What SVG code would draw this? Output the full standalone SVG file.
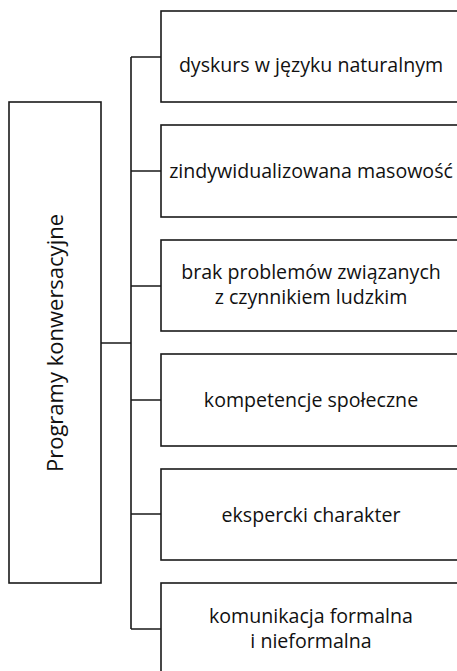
<svg xmlns="http://www.w3.org/2000/svg" width="457" height="671" viewBox="0 0 457 671">
<style>
.box{fill:#fff;stroke:#1a1a1a;stroke-width:1.6}
.conn{fill:none;stroke:#1a1a1a;stroke-width:1.6}
.t{font-family:"Open Sans","Noto Sans",sans-serif;font-size:19.6px;fill:#111;text-anchor:middle}
.big{font-size:22px}
</style>
<rect width="457" height="671" fill="#fff"/>
<g id="connectors">
<path class="conn" d="M101 343H131M131 57V629M131 57H161M131 171H161M131 286H161M131 400H161M131 514H161M131 629H161"/>
</g>
<g id="root">
<rect class="box" x="9" y="102" width="92" height="481"/>
<text class="t big" transform="translate(63,343) rotate(-90)">Programy konwersacyjne</text>
</g>
<g id="n1">
<rect class="box" x="161" y="11" width="310" height="91"/>
<text class="t" x="311" y="72">dyskurs w języku naturalnym</text>
</g>
<g id="n2">
<rect class="box" x="161" y="125" width="310" height="92"/>
<text class="t" x="311" y="178">zindywidualizowana masowość</text>
</g>
<g id="n3">
<rect class="box" x="161" y="240" width="310" height="91"/>
<text class="t" x="311" y="279">brak problemów związanych<tspan x="311" dy="24.5">z czynnikiem ludzkim</tspan></text>
</g>
<g id="n4">
<rect class="box" x="161" y="354" width="310" height="92"/>
<text class="t" x="311" y="407">kompetencje społeczne</text>
</g>
<g id="n5">
<rect class="box" x="161" y="469" width="310" height="91"/>
<text class="t" x="311" y="522">ekspercki charakter</text>
</g>
<g id="n6">
<rect class="box" x="161" y="583" width="310" height="100"/>
<text class="t" x="311" y="623">komunikacja formalna<tspan x="311" dy="24.5">i nieformalna</tspan></text>
</g>
</svg>
